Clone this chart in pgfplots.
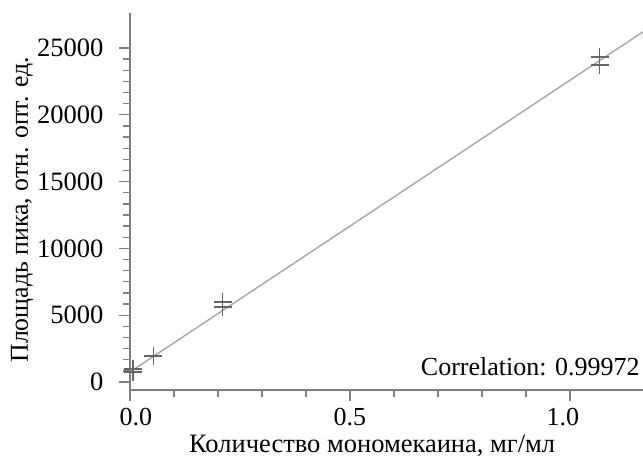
\documentclass[border=0pt]{standalone}
\usepackage{pgfplots}
\pgfplotsset{compat=1.18}
\usepackage{fontspec}
\setmainfont{Liberation Serif}
\begin{document}
\begin{tikzpicture}
\begin{axis}[
 scale only axis, width=513pt, height=377pt,
 xmin=0, xmax=1.166, ymin=-600, ymax=27620,
 axis x line=bottom, axis y line=left,
 axis line style={-, color=gray, line width=1.3pt},
 tick align=outside,
 major tick length=11pt, minor tick length=7pt,
 every tick/.style={color=gray, line width=1.3pt},
 xtick={0,0.5,1}, xticklabels={\kern12pt 0.0,0.5,1.0\kern14pt}, minor x tick num=4,
 ytick={0,5000,10000,15000,20000,25000}, yticklabels={0,5000,10000,15000,20000,25000}, minor y tick num=5,
 scaled ticks=false,
 xticklabel style={font=\fontsize{26}{31}\selectfont, text=black, yshift=-4pt},
 yticklabel style={font=\fontsize{26.5}{31}\selectfont, text=black, xshift=-12pt},
 xlabel={Количество мономекаина, мг/мл},
 ylabel={Площадь пика, отн. опт. ед.},
 xlabel style={font=\fontsize{26.5}{31}\selectfont, at={(axis description cs:0.472,-0.165)}, anchor=base},
 ylabel style={font=\fontsize{25.8}{31}\selectfont, at={(axis description cs:-0.199,0.478)}, anchor=base, rotate=0},
 clip=false,
]
\addplot[black!35, line width=1.4pt] coordinates {(0,750) (1.166,26210)};
\addplot[only marks, mark=+, mark size=9pt, black!60, line width=1.2pt] coordinates {
 (0.0066,970) (0.0066,750)
 (0.053,1950)
 (0.211,5990) (0.211,5610)
 (1.068,24330) (1.068,23730)
};
\node[anchor=east, inner sep=0pt, font=\fontsize{26}{31}\selectfont] at (axis description cs:0.994,0.061) {Correlation: 0.99972};
\end{axis}
\pgfresetboundingbox
\path (current axis.south west) ++(-130pt,-68pt) rectangle ([yshift=13pt]current axis.north east);
\end{tikzpicture}
\end{document}
